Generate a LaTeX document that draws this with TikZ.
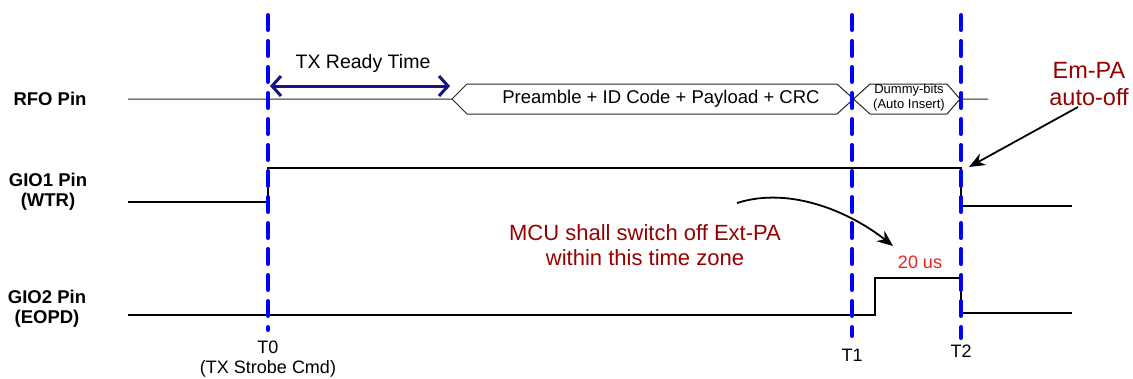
\documentclass[tikz,border=0pt]{standalone}
\usepackage{fontspec}
\setmainfont{Liberation Sans}
\usetikzlibrary{arrows.meta, positioning}

\definecolor{navy}{RGB}{20,20,130}
\definecolor{darkred}{RGB}{150,0,0}
\definecolor{usred}{RGB}{240,30,30}

\begin{document}
\begin{tikzpicture}[
  x=1pt, y=-1pt,
  pin/.style={font=\fontsize{18.5}{20}\selectfont\bfseries, align=center, inner sep=0pt},
  lbl/.style={font=\fontsize{18}{20}\selectfont, align=center, inner sep=0pt},
  small/.style={font=\fontsize{13}{15}\selectfont, align=center, inner sep=0pt},
  note/.style={font=\fontsize{22}{25}\selectfont, text=darkred, align=center, inner sep=0pt},
  wave/.style={line width=2.2pt, line join=miter},
  bus/.style={draw=black!85, line width=1pt},
  marker/.style={blue, line width=4pt, dash pattern=on 15pt off 11pt, line cap=round},
  edge/.style={-{Stealth[length=16pt,width=13pt]}, line width=1.8pt},
  span/.style={{Straight Barb[length=9pt,width=20pt]}-{Straight Barb[length=9pt,width=20pt]}, line width=3pt, navy}
]
\useasboundingbox (0,0) rectangle (1133,378);

% pin names
\node[pin] (rfo) at (50,99) {RFO Pin};
\node[pin] (gio1) at (48,192) {GIO1 Pin\\(WTR)};
\node[pin] (gio2) at (47,309) {GIO2 Pin\\(EOPD)};

% RFO bus
\draw[bus] (128,99) -- (452,99) -- (467,84) -- (837,84) -- (870,114) -- (947,114) -- (960,99) -- (988,99);
\draw[bus] (452,99) -- (467,114) -- (837,114) -- (870,84) -- (947,84) -- (960,99);
\node[lbl, font=\fontsize{18.5}{20}\selectfont] (data) at (661,99) {Preamble + ID Code + Payload + CRC};
\node[small] (dummy) at (909,98) {Dummy-bits\\(Auto Insert)};

% GIO waveforms
\draw[wave] (128,202) -- (268,202) -- (268,168) -- (961,168) -- (961,206) -- (1072,206);
\draw[wave] (128,315) -- (875,315) -- (875,278) -- (961,278) -- (961,313) -- (1072,313);

% time markers
\foreach \x/\e in {268/330, 852/336, 961/338}
  \draw[marker] (\x,15) -- (\x,\e);
\node[lbl] (t0) at (268,359) {T0\\(TX Strobe Cmd)};
\node[lbl] (t1) at (852,355) {T1};
\node[lbl] (t2) at (961,351) {T2};

% TX ready span
\coordinate (rdyA) at (270,86);
\coordinate (rdyB) at (450,86);
\draw[span] (rdyA) -- (rdyB);
\node[lbl, font=\fontsize{19.5}{22}\selectfont] (ready) at (363,63) {TX Ready Time};

% notes
\node[note] (mcu) at (645,245) {MCU shall switch off Ext-PA\\within this time zone};
\node[note, font=\fontsize{23.5}{27}\selectfont] (empa) at (1089,84) {Em-PA\\auto-off};
\node[lbl, text=usred] (us) at (920,262) {20 us};

\coordinate (mcuA) at (737,203);
\coordinate (mcuB) at (893,246);
\draw[edge] (mcuA) .. controls (790,186) and (850,212) .. (mcuB);
\coordinate (empaA) at (1078,107);
\coordinate (empaB) at (969,167);
\draw[edge] (empaA) -- (empaB);
\end{tikzpicture}
\end{document}
